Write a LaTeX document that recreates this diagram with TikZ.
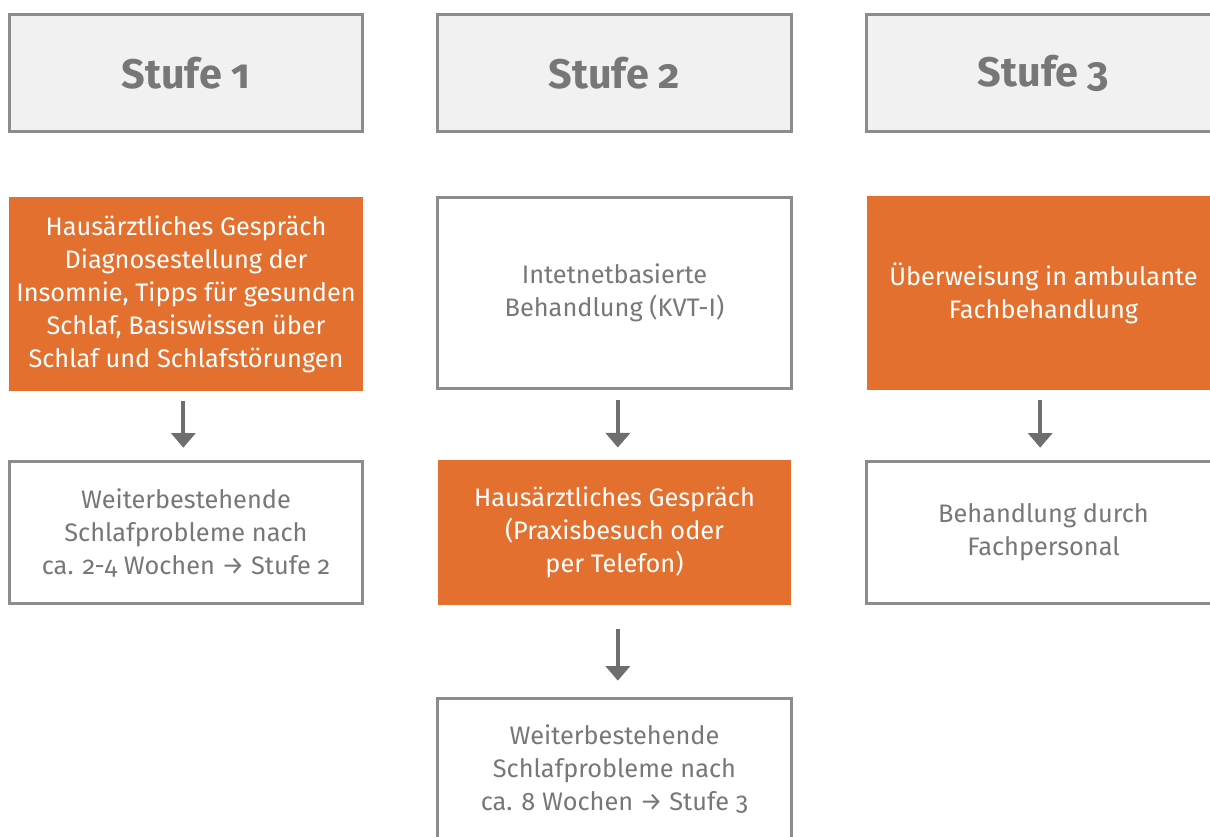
\documentclass[tikz,border=0pt]{standalone}
\usepackage{fontspec}
\setmainfont{Fira Sans}[Numbers=OldStyle]
\usetikzlibrary{arrows.meta}
\definecolor{orng}{HTML}{E4702F}
\definecolor{hdrfill}{HTML}{F1F1F1}
\definecolor{bordergray}{HTML}{8C8C8C}
\definecolor{txtgray}{HTML}{777777}
\definecolor{arrgray}{HTML}{6E6E6E}
\tikzset{
  box/.style={rectangle, minimum width=265pt, align=center, inner sep=0pt,
    font=\fontsize{19}{24.75}\selectfont},
  hdr/.style={box, draw=bordergray, line width=2.2pt, fill=hdrfill, minimum height=88pt,
    text=txtgray, font=\fontsize{31}{36}\selectfont\bfseries},
  orangebox/.style={box, fill=orng, text=white},
  whitebox/.style={box, draw=bordergray, line width=2.2pt, fill=white, text=txtgray},
  flowarrow/.style={draw=arrgray, line width=3pt, -{Triangle[width=18pt,length=11pt]}}
}
\begin{document}
\begin{tikzpicture}[x=0.75pt,y=-0.75pt]
\useasboundingbox (0,0) rectangle (1210,836);
\clip (0,0) rectangle (1210,836);
% headers
\node[hdr] (h1) at (186,73) {Stufe 1};
\node[hdr] (h2) at (614.5,73) {Stufe 2};
\node[hdr] (h3) at (1043.5,73) {Stufe 3};
% column 1
\node[orangebox, minimum height=145.5pt] (a1) at (186,294) {Hausärztliches Gespräch\\Diagnosestellung der\\Insomnie, Tipps für gesunden\\Schlaf, Basiswissen über\\Schlaf und Schlafstörungen};
\node[whitebox, minimum height=107pt] (a2) at (186,532.5) {Weiterbestehende\\Schlafprobleme nach\\ca. 2-4 Wochen → Stufe 2};
% column 2
\node[whitebox, minimum height=143pt] (b1) at (614.5,293) {Intetnetbasierte\\Behandlung (KVT-I)};
\node[orangebox, minimum height=109pt] (b2) at (614.5,532.5) {Hausärztliches Gespräch\\(Praxisbesuch oder\\per Telefon)};
\node[whitebox, minimum height=107pt] (b3) at (614.5,769.5) {Weiterbestehende\\Schlafprobleme nach\\ca. 8 Wochen → Stufe 3};
% column 3
\node[orangebox, minimum height=145.5pt] (c1) at (1043.5,293) {Überweisung in ambulante\\Fachbehandlung};
\node[whitebox, minimum height=107pt] (c2) at (1043.5,532.5) {Behandlung durch\\Fachpersonal};
% arrows
\draw[flowarrow, shorten <=7.5pt, shorten >=9pt] ([xshift=-2pt]a1.south) -- ([xshift=-2pt]a2.north);
\draw[flowarrow, shorten <=7.5pt, shorten >=9pt] ([xshift=2.5pt]b1.south) -- ([xshift=2.5pt]b2.north);
\draw[flowarrow, shorten <=18pt, shorten >=12pt] ([xshift=2.5pt]b2.south) -- ([xshift=2.5pt]b3.north);
\draw[flowarrow, shorten <=7.5pt, shorten >=9pt] ([xshift=-2.5pt]c1.south) -- ([xshift=-2.5pt]c2.north);
\end{tikzpicture}
\end{document}
